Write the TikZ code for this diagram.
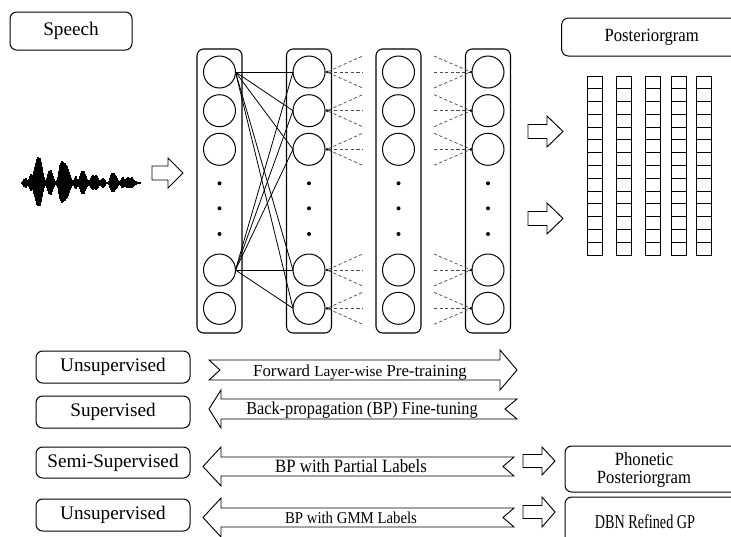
\documentclass[tikz,border=0pt]{standalone}
\usepackage{fontspec}
\setmainfont{Liberation Serif}
\usetikzlibrary{calc}

% block arrow pointing right: tail x, notch depth, head base x, tip x, centre y, shaft half height, head half height
\newcommand\rightblock[7]{%
  \draw[blk] (#1,#5-#6) -- (#3,#5-#6) -- (#3,#5-#7) -- (#4,#5) -- (#3,#5+#7)
    -- (#3,#5+#6) -- (#1,#5+#6) -- (#1+#2,#5) -- cycle;}
% block arrow pointing left: tail x, notch depth, head base x, tip x, centre y, shaft half height, head half height
\newcommand\leftblock[7]{%
  \draw[blk] (#1,#5-#6) -- (#3,#5-#6) -- (#3,#5-#7) -- (#4,#5) -- (#3,#5+#7)
    -- (#3,#5+#6) -- (#1,#5+#6) -- (#1-#2,#5) -- cycle;}
% slightly condensed lettering
\newcommand\narrowtext[2]{\scalebox{#1}[1.12]{#2}}

\begin{document}
\begin{tikzpicture}[x=0.75pt,y=-0.75pt,
  every node/.style={inner sep=0pt, outer sep=0pt},
  rbox/.style={draw, rounded corners=5pt, line width=0.75pt},
  lay/.style={draw, rounded corners=5pt, line width=0.8pt,
    minimum width=45*0.75pt, minimum height=284*0.75pt},
  neuron/.style={draw, circle, minimum size=32*0.75pt, line width=0.75pt},
  dotn/.style={fill, circle, minimum size=3pt},
  fanmark/.style={fill, circle, minimum size=2.2pt},
  blk/.style={draw, line width=0.7pt, line join=miter, fill=white},
  link/.style={line width=0.6pt},
  fan/.style={draw=black!70, line width=0.55pt, dash pattern=on 2.4pt off 1.8pt},
  cellline/.style={line width=0.7pt},
  bigtxt/.style={font=\fontsize{14.4}{17}\selectfont},
  midtxt/.style={font=\fontsize{12.5}{14.25}\selectfont}]

\path[use as bounding box] (0,0) rectangle (731,536);
\clip (0,0) rectangle (731,536);

% input
\node[rbox, bigtxt, minimum width=122*0.75pt, minimum height=38*0.75pt] (speech) at (71,31) {Speech};

% waveform
\draw[line width=0.5pt] (22,183) -- (140,183);
\foreach \x/\a in {22/1,23/2,24/4,25/3,26/5,27/3,28/2,29/4,30/7,31/9,32/6,33/8,34/12,35/16,
  36/20,37/24,38/26,39/22,40/25,41/21,42/16,43/10,44/6,45/3,46/2,47/5,48/9,49/12,50/11,
  51/13,52/10,53/7,54/4,55/2,56/2,57/3,58/6,59/12,60/18,61/20,62/22,63/21,64/19,65/20,
  66/18,67/17,68/14,69/11,70/8,71/5,72/3,73/2,74/3,75/5,76/7,77/4,78/3,79/4,80/7,81/10,
  82/12,83/11,84/12,85/9,86/7,87/4,88/3,89/2,90/3,91/5,92/7,93/8,94/7,95/6,96/8,97/7,
  98/5,99/3,100/2,101/3,102/4,103/5,104/4,105/3,106/1,107/1,108/1,109/2,110/5,111/8,
  112/10,113/9,114/10,115/8,116/7,117/5,118/3,119/2,120/2,121/3,122/5,123/6,124/4,
  125/3,126/4,127/5,128/6,129/5,130/4,131/5,132/6,133/4,134/3,135/2,136/2,137/1,
  138/1,139/1,140/1}
  \draw[line width=0.9pt] (\x,{183-\a}) -- (\x,{183+\a*0.9});

\rightblock{152}{0}{168}{183}{173}{7}{15}

% network layers
\foreach \c/\x in {1/219.5,2/309,3/398.5,4/488} {
  \node[lay] (col\c) at (\x,191) {};
  \foreach \i/\y in {1/72,2/110.7,3/149.3,4/270,5/308.3}
    \node[neuron] (n\c\i) at (\x,\y) {};
  \foreach \k/\y in {1/183.3,2/208.3,3/234}
    \node[dotn] (d\c\k) at (\x,\y) {};
}

% full connections between the first two layers
\foreach \i in {1,4}
  \foreach \j in {1,...,5}
    \draw[link] (n1\i.east) -- (n2\j.west);

% dashed fans leaving layer 2 and entering layer 4
\foreach \i in {1,...,5} {
  \node[fanmark] (m2\i) at ($(n2\i.east)+(2,0)$) {};
  \node[fanmark] (m4\i) at ($(n4\i.west)+(-1,0)$) {};
  \foreach \k/\dy in {a/-16,b/0,c/16} {
    \coordinate (o2\i\k) at ($(n2\i)+(53.5,\dy)$);
    \coordinate (i4\i\k) at ($(n4\i)+(-54,\dy)$);
    \draw[fan] (m2\i) -- (o2\i\k);
    \draw[fan] (i4\i\k) -- (m4\i);
  }
}

% output posteriorgram
\rightblock{528}{0}{547}{563}{131.5}{7}{15.5}
\rightblock{528}{0}{547}{563}{218.5}{7}{15.5}
\node[rbox, midtxt, minimum width=180*0.75pt, minimum height=38*0.75pt] (pgram) at (651.7,37) {\narrowtext{1}{Posteriorgram}};
\foreach \x in {587.7,616.7,645,671,696.7} {
  \draw[cellline] (\x,76) rectangle (\x+15,255);
  \foreach \k in {1,...,13}
    \draw[cellline] (\x,{76+\k*179/14}) -- (\x+15,{76+\k*179/14});
}

% training modes
\node[rbox, bigtxt, minimum width=154*0.75pt, minimum height=32*0.75pt] (unsup) at (113,367) {Unsupervised};
\node[rbox, bigtxt, minimum width=154*0.75pt, minimum height=32*0.75pt] (sup) at (113,412) {Supervised};
\node[rbox, bigtxt, minimum width=154*0.75pt, minimum height=31*0.75pt] (semi) at (113,462.5) {Semi-Supervised};
\node[rbox, bigtxt, minimum width=154*0.75pt, minimum height=32*0.75pt] (unsupb) at (113,515) {Unsupervised};

\rightblock{209}{11}{500}{517}{370}{10}{20}
\node[font=\fontsize{12.6}{15}\selectfont] (fwd) at (360,372)
  {Forward {\fontsize{11.4}{13}\selectfont Layer-wise} Pre-training};

\leftblock{517}{12}{221}{209}{409}{10}{19}
\node[font=\fontsize{12.2}{14}\selectfont] (bp) at (362,410) {\narrowtext{1}{Back-propagation (BP) Fine-tuning}};

\leftblock{514}{11}{221}{203}{466.5}{9.5}{19.5}
\node[font=\fontsize{12.6}{14}\selectfont] (bppart) at (351,466) {\narrowtext{1}{BP with Partial Labels}};

\leftblock{514}{11}{221}{203}{517.5}{9.5}{19.5}
\node[font=\fontsize{11.1}{13}\selectfont] (bpgmm) at (351,518) {\narrowtext{1}{BP with GMM Labels}};

% refined outputs
\rightblock{523}{0}{542}{555}{461}{6.5}{14}
\rightblock{523}{0}{542}{555}{512}{6.5}{15}
\node[rbox, anchor=north west, minimum width=190*0.75pt, minimum height=46*0.75pt] (phon) at (565,446) {};
\node[midtxt, align=center] (phontxt) at (644,470)
  {\narrowtext{1}{Phonetic}\\[-1pt]\narrowtext{1}{Posteriorgram}};
\node[rbox, anchor=north west, minimum width=190*0.75pt, minimum height=60*0.75pt] (dbn) at (565,497) {};
\node[font=\fontsize{14}{16}\selectfont] (dbntxt) at (645,522) {\scalebox{0.76}[1.05]{DBN Refined GP}};

\end{tikzpicture}
\end{document}
